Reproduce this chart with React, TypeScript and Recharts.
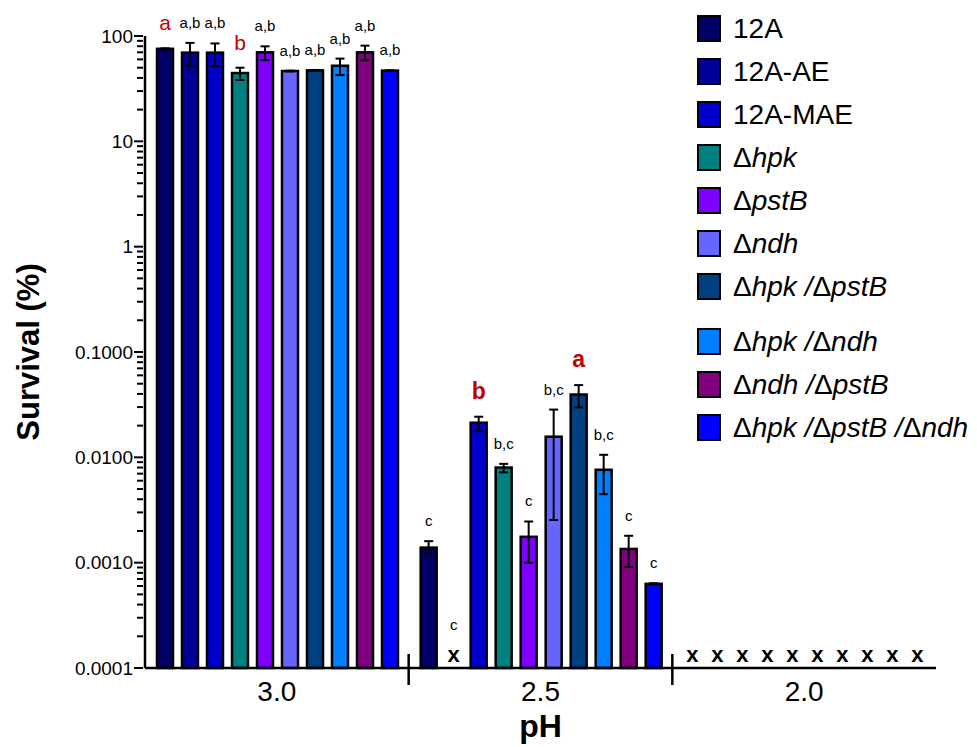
import React from "react";
import { Bar, BarChart, ErrorBar, XAxis, YAxis } from "recharts";

const PH = ["3.0", "2.5", "2.0"];
const STRAINS = [
  "12A",
  "12A-AE",
  "12A-MAE",
  "Δhpk",
  "ΔpstB",
  "Δndh",
  "Δhpk /ΔpstB",
  "Δhpk /Δndh",
  "Δndh /ΔpstB",
  "Δhpk /ΔpstB /Δndh",
];
const COLORS = [
  "#000066",
  "#000099",
  "#0000CC",
  "#008080",
  "#8000FF",
  "#6666FF",
  "#004080",
  "#0080FF",
  "#800080",
  "#0000FF",
];

// pH 3.0
const MEAN_30 = [75.6, 69.5, 69.5, 44.5, 70, 46.5, 47.2, 52.2, 70, 46.9];
const LOW_30 = [74.8, 51.5, 51.5, 38.2, 59, 46.1, 46.8, 42.6, 58.8, 46.5];
const HIGH_30 = [76.4, 86, 85, 50, 79.8, 46.9, 47.6, 61, 81, 47.3];
const LETTERS_30 = ["a", "a,b", "a,b", "b", "a,b", "a,b", "a,b", "a,b", "a,b", "a,b"];
const RED_30 = [0, 3];

// pH 2.5 (null = nothing recovered)
const MEAN_25 = [0.00139, null, 0.0213, 0.008, 0.00176, 0.0157, 0.0395, 0.00762, 0.00135, 0.00063];
const LOW_25 = [0.0012, null, 0.0177, 0.0072, 0.000996, 0.00254, 0.0298, 0.00447, 0.00091, 0.000622];
const HIGH_25 = [0.0016, null, 0.0243, 0.00867, 0.00246, 0.0284, 0.0485, 0.01057, 0.0018, 0.000638];
const LETTERS_25 = ["c", "c", "b", "b,c", "c", "b,c", "a", "b,c", "c", "c"];
const RED_25 = [2, 6];

// pH 2.0: no survivors
const MEAN_20 = [null, null, null, null, null, null, null, null, null, null];
const LETTERS_20 = ["", "", "", "", "", "", "", "", "", ""];

const Y_MIN = 0.0001;
const Y_MAX = 100;
const MAJOR_LABELS = ["0.0001", "0.0010", "0.0100", "0.1000", "1", "10", "100"];

const FONT = '"Liberation Sans", Arial, Helvetica, sans-serif';
const RED = "#C00000";
const PLOT_LEFT = 145;
const PLOT_RIGHT = 936;

const yTicks: number[] = [];
for (let k = -4; k < 2; k++) {
  for (let m = 1; m < 10; m++) yTicks.push(m * Math.pow(10, k));
}
yTicks.push(Y_MAX);

const groups = [
  { mean: MEAN_30, low: LOW_30, high: HIGH_30, letters: LETTERS_30, red: RED_30, bold: false },
  { mean: MEAN_25, low: LOW_25, high: HIGH_25, letters: LETTERS_25, red: RED_25, bold: true },
  { mean: MEAN_20, low: MEAN_20, high: MEAN_20, letters: LETTERS_20, red: [] as number[], bold: false },
];

const data = PH.map((ph, g) => {
  const grp = groups[g];
  const row: Record<string, any> = { ph };
  STRAINS.forEach((_, i) => {
    const m = grp.mean[i];
    const nd = m == null;
    row[`v${i}`] = nd ? Y_MIN : m;
    row[`e${i}`] = nd ? [0, 0] : [m - (grp.low[i] as number), (grp.high[i] as number) - m];
    row[`h${i}`] = nd ? Y_MIN : grp.high[i];
    row[`n${i}`] = nd;
    row[`l${i}`] = grp.letters[i];
    row[`r${i}`] = grp.red.includes(i);
    row[`b${i}`] = grp.bold;
  });
  return row;
});

const makeShape = (i: number) => (props: any) => {
  const { x, y, width, height, payload } = props;
  const cx = x + width / 2;
  const letter = payload[`l${i}`];
  const red = payload[`r${i}`];
  const bold = payload[`b${i}`];
  if (payload[`n${i}`]) {
    return (
      <g>
        <text x={cx} y={y - 6} textAnchor="middle" fontFamily={FONT} fontSize={22} fontWeight="bold" fill="#000">
          x
        </text>
        {letter ? (
          <text x={cx} y={y - 38} textAnchor="middle" fontFamily={FONT} fontSize={15} fill="#000">
            {letter}
          </text>
        ) : null}
      </g>
    );
  }
  const v = payload[`v${i}`];
  const hi = payload[`h${i}`];
  const perDecade = height / (Math.log10(v) - Math.log10(Y_MIN));
  const top = y - (Math.log10(hi) - Math.log10(v)) * perDecade;
  return (
    <g>
      <rect x={x} y={y} width={width} height={height} fill={COLORS[i]} stroke="#000" strokeWidth={2.5} />
      {letter ? (
        <text
          x={cx}
          y={red ? top - 18 : top - 15}
          textAnchor="middle"
          fontFamily={FONT}
          fontSize={red ? (bold ? 23 : 21) : 15}
          fontWeight={red && bold ? "bold" : "normal"}
          fill={red ? RED : "#000"}
        >
          {letter}
        </text>
      ) : null}
    </g>
  );
};

const YTick = ({ x, y, payload }: any) => {
  const lg = Math.log10(payload.value);
  const major = Math.abs(lg - Math.round(lg)) < 1e-9;
  return (
    <g>
      <line x1={x - (major ? 9 : 6)} x2={x} y1={y} y2={y} stroke="#000" strokeWidth={2} />
      {major ? (
        <text x={x - 10} y={y} dy="0.35em" textAnchor="end" fontFamily={FONT} fontSize={19} fill="#000">
          {MAJOR_LABELS[Math.round(lg) + 4]}
        </text>
      ) : null}
    </g>
  );
};

const XTick = ({ x, y, payload, index }: any) => {
  const half = (PLOT_RIGHT - PLOT_LEFT) / PH.length / 2;
  return (
    <g>
      {index > 0 ? (
        <line x1={x - half} x2={x - half} y1={y - 16} y2={y + 15} stroke="#000" strokeWidth={2.5} />
      ) : null}
      <text x={x} y={y + 31} textAnchor="middle" fontFamily={FONT} fontSize={28} fill="#000">
        {payload.value}
      </text>
    </g>
  );
};

const YTitle = ({ viewBox }: any) => {
  const cy = viewBox.y + viewBox.height / 2;
  return (
    <text
      x={28}
      y={cy}
      transform={`rotate(-90 28 ${cy})`}
      textAnchor="middle"
      dominantBaseline="central"
      fontFamily={FONT}
      fontSize={31}
      fontWeight="bold"
      fill="#000"
    >
      Survival (%)
    </text>
  );
};

const XTitle = ({ viewBox }: any) => (
  <text
    x={viewBox.x + viewBox.width / 2}
    y={viewBox.y + 69}
    textAnchor="middle"
    fontFamily={FONT}
    fontSize={32}
    fontWeight="bold"
    fill="#000"
  >
    pH
  </text>
);

const StrainName = ({ name }: { name: string }) => {
  if (!name.startsWith("Δ")) return <span>{name}</span>;
  const parts = name.split("Δ").slice(1);
  return (
    <span>
      {parts.map((p, k) => (
        <React.Fragment key={k}>
          <span>Δ</span>
          <span style={{ fontStyle: "italic" }}>{p}</span>
        </React.Fragment>
      ))}
    </span>
  );
};

const Legend = () => (
  <div style={{ position: "absolute", left: 697, top: 7, fontFamily: FONT, fontSize: 28, color: "#000" }}>
    {STRAINS.map((s, i) => (
      <div
        key={s}
        style={{ display: "flex", alignItems: "center", height: 43, marginTop: i === 7 ? 12 : 0 }}
      >
        <div
          style={{
            width: 24,
            height: 27,
            boxSizing: "border-box",
            border: "2px solid #000",
            background: COLORS[i],
            marginRight: 12,
          }}
        />
        <StrainName name={s} />
      </div>
    ))}
  </div>
);

export default function App() {
  return (
    <div style={{ position: "absolute", left: 0, top: 0, width: 977, height: 747, background: "#fff" }}>
      <BarChart
        width={977}
        height={747}
        data={data}
        margin={{ top: 36, right: 977 - PLOT_RIGHT, bottom: 0, left: 0 }}
        barCategoryGap={12}
        barGap={9}
      >
        <XAxis
          dataKey="ph"
          type="category"
          height={79}
          interval={0}
          tickSize={0}
          tickLine={false}
          axisLine={{ stroke: "#000", strokeWidth: 2.5 }}
          tick={<XTick />}
          label={<XTitle />}
        />
        <YAxis
          type="number"
          scale="log"
          domain={[Y_MIN, Y_MAX]}
          ticks={yTicks}
          interval={0}
          width={PLOT_LEFT}
          tickSize={0}
          tickLine={false}
          axisLine={{ stroke: "#000", strokeWidth: 2.5 }}
          tick={<YTick />}
          label={<YTitle />}
        />
        {STRAINS.map((s, i) => (
          <Bar
            key={s}
            dataKey={`v${i}`}
            name={s}
            fill={COLORS[i]}
            isAnimationActive={false}
            shape={makeShape(i)}
          >
            <ErrorBar dataKey={`e${i}`} width={4.5} strokeWidth={2} stroke="#000" direction="y" />
          </Bar>
        ))}
      </BarChart>
      <Legend />
    </div>
  );
}
